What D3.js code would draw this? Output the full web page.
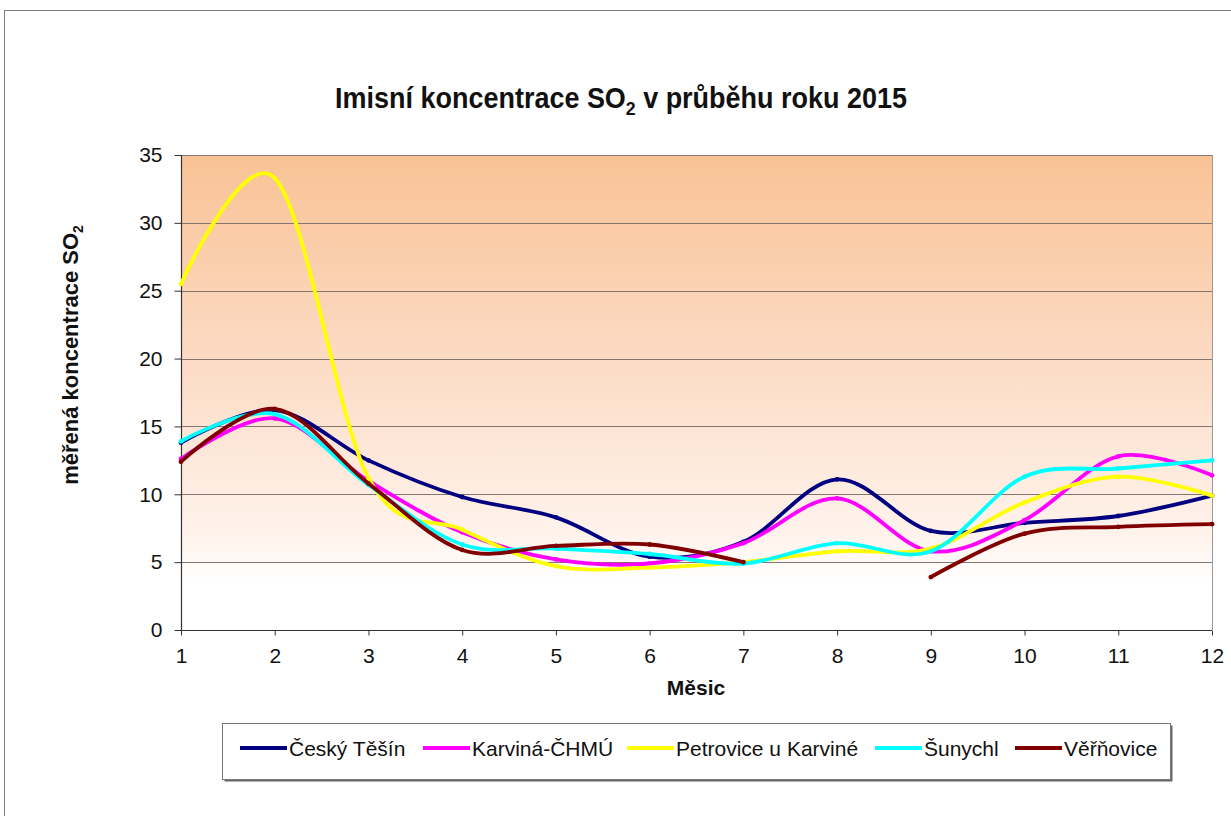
<!DOCTYPE html>
<html>
<head>
<meta charset="utf-8">
<script src="https://cdn.jsdelivr.net/npm/d3@7"></script>
<style>
  body { margin: 0; background: #fff; }
  svg { display: block; font-family: "Liberation Sans", Arial, sans-serif; }
</style>
</head>
<body>
<div id="chart"></div>
<script>
const months = [1, 2, 3, 4, 5, 6, 7, 8, 9, 10, 11, 12];
const yTicks = [0, 5, 10, 15, 20, 25, 30, 35];

const ceskyTesin = [13.8, 16.2, 12.5, 9.8, 8.3, 5.4, 6.5, 11.1, 7.3, 7.9, 8.4, 9.9];
const karvinaChmu = [12.6, 15.6, 11.0, 7.2, 5.2, 4.9, 6.4, 9.7, 5.8, 8.1, 12.8, 11.4];
const petrovice = [25.5, 33.3, 11.2, 7.4, 4.7, 4.6, 5.0, 5.8, 6.0, 9.4, 11.3, 9.9];
const sunychl = [13.9, 15.9, 10.7, 6.3, 6.0, 5.6, 4.9, 6.4, 5.8, 11.3, 11.9, 12.5];
const vernovice = [12.4, 16.3, 10.8, 5.9, 6.2, 6.3, 5.0, null, 3.9, 7.1, 7.6, 7.8];

const seriesNames = ["Český Těšín", "Karviná-ČHMÚ", "Petrovice u Karviné", "Šunychl", "Věřňovice"];
const seriesColors = ["#000080", "#ff00ff", "#ffff00", "#00ffff", "#800000"];
const seriesValues = [ceskyTesin, karvinaChmu, petrovice, sunychl, vernovice];

const W = 1231, H = 816;
const plot = { left: 181, right: 1212, top: 155, bottom: 630 };
const fontSize = 21;

const svg = d3.select('#chart')
    .append('svg')
    .attr('width', W)
    .attr('height', H);

// outer chart frame
svg.append('rect')
    .attr('x', 4.5).attr('y', 10.5)
    .attr('width', W + 20).attr('height', H + 20)
    .attr('fill', '#fff')
    .attr('stroke', '#808080');

const x = d3.scaleLinear().domain([1, 12]).range([plot.left, plot.right]);
const y = d3.scaleLinear().domain([0, 35]).range([plot.bottom, plot.top]);

// plot area gradient
const defs = svg.append('defs');
const grad = defs.append('linearGradient')
    .attr('id', 'bg')
    .attr('x1', 0).attr('y1', 0).attr('x2', 0).attr('y2', 1);
grad.append('stop').attr('offset', '0%').attr('stop-color', '#f9c295');
grad.append('stop').attr('offset', '45%').attr('stop-color', '#fcdcc6');
grad.append('stop').attr('offset', '80%').attr('stop-color', '#fff3ec');
grad.append('stop').attr('offset', '90%').attr('stop-color', '#ffffff');
grad.append('stop').attr('offset', '100%').attr('stop-color', '#ffffff');

svg.append('rect')
    .attr('x', plot.left).attr('y', plot.top)
    .attr('width', plot.right - plot.left)
    .attr('height', plot.bottom - plot.top)
    .attr('fill', 'url(#bg)');

// right border of plot area
svg.append('line')
    .attr('x1', plot.right + 0.5).attr('x2', plot.right + 0.5)
    .attr('y1', plot.top).attr('y2', plot.bottom)
    .attr('stroke', '#9a9a9a');

// gridlines
svg.append('g')
    .selectAll('line')
    .data(yTicks.filter(d => d > 0))
    .join('line')
    .attr('x1', plot.left).attr('x2', plot.right)
    .attr('y1', d => Math.round(y(d)) + 0.5)
    .attr('y2', d => Math.round(y(d)) + 0.5)
    .attr('stroke', '#857670')
    .attr('stroke-width', 1.2);

// axes
const yAxis = svg.append('g')
    .attr('transform', `translate(${ plot.left + 0.5 }, 0)`)
    .call(d3.axisLeft(y).tickValues(yTicks).tickSize(7).tickPadding(12));
const xAxis = svg.append('g')
    .attr('transform', `translate(0, ${ plot.bottom + 0.5 })`)
    .call(d3.axisBottom(x).tickValues(months).tickSize(5).tickPadding(13).tickFormat(d3.format('d')));

[yAxis, xAxis].forEach(ax => {
    ax.select('.domain').attr('stroke', '#333').attr('stroke-width', 1.2);
    ax.selectAll('.tick line').attr('stroke', '#333');
    ax.selectAll('text').attr('font-size', fontSize).attr('fill', '#111')
        .attr('font-family', '"Liberation Sans", Arial, sans-serif');
});
xAxis.select('.domain').attr('d', `M${ plot.left },0H${ plot.right }`);
yAxis.select('.domain').attr('d', `M0,${ plot.bottom }V${ plot.top }`);

// lines
const line = d3.line()
    .defined(d => d.v !== null)
    .x(d => x(d.m))
    .y(d => y(d.v))
    .curve(d3.curveCardinal.tension(0));

const lineGroup = svg.append('g');
seriesValues.forEach((vals, i) => {
    const pts = months.map((m, j) => ({ m: m, v: vals[j] }));
    lineGroup.append('path')
        .datum(pts)
        .attr('d', line)
        .attr('fill', 'none')
        .attr('stroke', seriesColors[i])
        .attr('stroke-width', 3.8)
        .attr('stroke-linejoin', 'round')
        .attr('stroke-linecap', 'round');
    lineGroup.selectAll(null)
        .data(pts.filter(d => d.v !== null))
        .join('circle')
        .attr('cx', d => x(d.m))
        .attr('cy', d => y(d.v))
        .attr('r', 2.4)
        .attr('fill', seriesColors[i]);
});

// title (slightly condensed like the original)
const title = svg.append('text')
    .attr('transform', 'translate(621, 108) scale(0.93, 1)')
    .attr('text-anchor', 'middle')
    .attr('font-size', 29)
    .attr('font-weight', 'bold')
    .attr('fill', '#111');
title.append('tspan').text('Imisní koncentrace SO');
title.append('tspan').attr('font-size', 19).attr('dy', 7).text('2');
title.append('tspan').attr('dy', -7).text(' v průběhu roku 2015');

// y axis title
const yTitle = svg.append('text')
    .attr('transform', 'translate(78, 355) rotate(-90)')
    .attr('text-anchor', 'middle')
    .attr('font-size', 22)
    .attr('font-weight', 'bold')
    .attr('fill', '#111');
yTitle.append('tspan').text('měřená koncentrace SO');
yTitle.append('tspan').attr('font-size', 14).attr('dy', 5).text('2');

// x axis title
svg.append('text')
    .attr('x', 696).attr('y', 695)
    .attr('text-anchor', 'middle')
    .attr('font-size', fontSize)
    .attr('font-weight', 'bold')
    .attr('fill', '#111')
    .text('Měsic');

// legend
const legend = svg.append('g');
legend.append('rect')
    .attr('x', 224.5).attr('y', 725.5)
    .attr('width', 948).attr('height', 56)
    .attr('fill', '#666');
legend.append('rect')
    .attr('x', 222.5).attr('y', 723.5)
    .attr('width', 948).attr('height', 56)
    .attr('fill', '#fff')
    .attr('stroke', '#777');

const legendX = [240, 423, 627, 875, 1015];
const legendItems = legend.selectAll('g.item')
    .data(seriesNames)
    .join('g')
    .attr('class', 'item')
    .attr('transform', (d, i) => `translate(${ legendX[i] }, 748)`);
legendItems.append('line')
    .attr('x1', 0).attr('x2', 47)
    .attr('y1', 0).attr('y2', 0)
    .attr('stroke', (d, i) => seriesColors[i])
    .attr('stroke-width', 3.8);
legendItems.append('text')
    .attr('x', 49).attr('y', 8)
    .attr('font-size', fontSize)
    .attr('fill', '#111')
    .text(d => d);
</script>
</body>
</html>
